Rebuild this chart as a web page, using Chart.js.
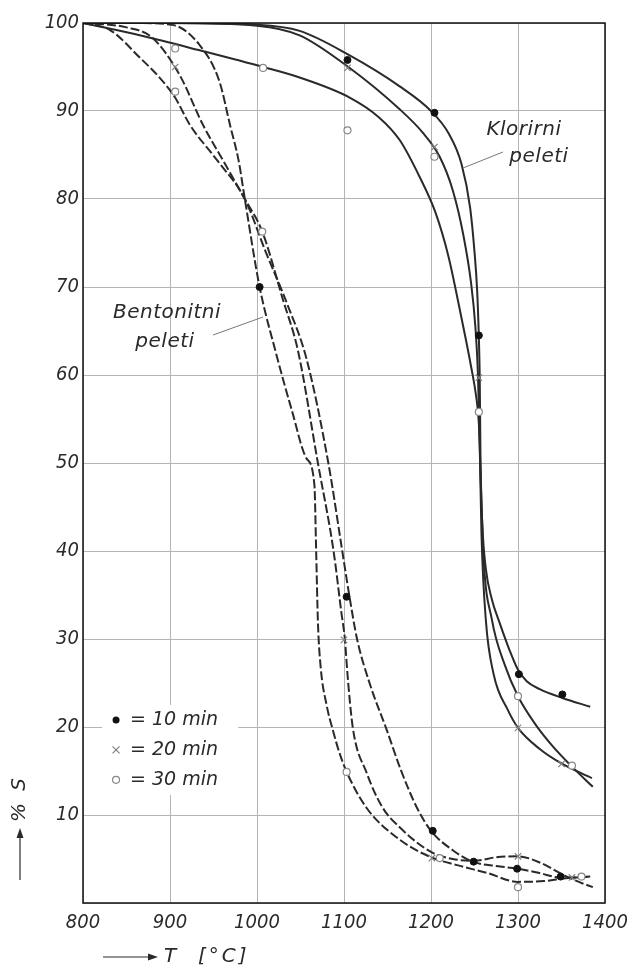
<!DOCTYPE html>
<html>
<head>
<meta charset="utf-8">
<script src="https://cdn.jsdelivr.net/npm/chart.js@4.4.1/dist/chart.umd.min.js"></script>
<style>
  body { margin: 0; background: #fff; }
  #wrap { width: 627px; height: 967px; }
</style>
</head>
<body>
<div id="wrap"><canvas id="myChart" width="627" height="967"></canvas></div>
<script>
// axis ticks
const tempTicks = [800, 900, 1000, 1100, 1200, 1300, 1400];
const sulfurTicks = [0, 10, 20, 30, 40, 50, 60, 70, 80, 90, 100];

// Klorirni peleti - solid curves
const klorT10 = [800, 900, 1000, 1049, 1105, 1164, 1200, 1220, 1235, 1245, 1250, 1253, 1255, 1256, 1257, 1259, 1263, 1270, 1279, 1290, 1300, 1310, 1325, 1351, 1383];
const klorS10 = [100, 100, 99.8, 99.1, 96.4, 92.8, 90, 87.5, 84, 79, 74, 69.7, 64.3, 59.8, 49.5, 43, 38, 34.5, 31.8, 28.8, 26.5, 25.2, 24.3, 23.3, 22.3];
const klorT20 = [800, 900, 1000, 1049, 1105, 1164, 1190, 1210, 1225, 1237, 1246, 1251, 1254, 1256, 1258, 1263, 1272, 1288, 1300, 1325, 1351, 1385];
const klorS20 = [100, 100, 99.7, 98.6, 95, 90.2, 87.6, 84.8, 81, 76, 70.5, 65.5, 60, 52, 42, 32.2, 26, 22, 19.9, 17.5, 15.8, 14.2];
const klorT30 = [800, 870, 934, 1007, 1049, 1107, 1140, 1164, 1187, 1205, 1220, 1235, 1246, 1252, 1255, 1257, 1260, 1270, 1285, 1300, 1320, 1340, 1362, 1386];
const klorS30 = [100, 98.5, 96.9, 95, 93.8, 91.5, 89.3, 86.7, 82.5, 78.5, 73.5, 66.5, 61, 57.5, 54.5, 49, 40, 32.2, 27, 23.5, 20.3, 17.8, 15.5, 13.2];

// Bentonitni peleti - dashed curves
const bentT1 = [800, 860, 902, 934, 957, 969, 979, 986, 1003, 1021, 1040, 1057, 1066, 1068, 1070, 1073, 1080, 1087, 1095, 1103, 1126, 1164, 1200, 1230, 1265, 1300, 1330, 1355, 1383];
const bentS1 = [100, 100, 99.8, 97.5, 93.3, 88.4, 84.3, 80, 70, 62.8, 56, 50.5, 47.5, 40, 32, 27, 22.5, 19.7, 17, 14.9, 10.8, 7.2, 5.2, 4.3, 3.4, 2.4, 2.5, 2.8, 3.0];
const bentT2 = [800, 850, 880, 911, 938, 962, 986, 1006, 1030, 1047, 1070, 1088, 1097, 1101, 1104, 1110, 1126, 1144, 1164, 1200, 1225, 1250, 1275, 1300, 1325, 1350, 1370, 1386];
const bentS2 = [100, 99.5, 98.3, 94.1, 88.4, 84.2, 80, 76.3, 68.5, 62.8, 50, 40, 33, 30, 26, 20, 14.8, 10.9, 8.6, 5.8, 5.0, 4.8, 5.2, 5.3, 4.6, 3.3, 2.4, 1.8];
const bentT3 = [800, 831, 866, 888, 906, 923, 955, 986, 1010, 1035, 1057, 1082, 1098, 1106, 1115, 1130, 1149, 1165, 1184, 1200, 1225, 1248, 1275, 1300, 1325, 1348, 1368, 1383];
const bentS3 = [100, 99.2, 96, 93.8, 91.5, 88.4, 84.3, 80, 74, 68, 61.8, 50, 40, 35, 30, 24.8, 19.7, 15.2, 10.8, 8.2, 6.0, 4.7, 4.2, 3.9, 3.4, 2.9, 2.9, 3.0];

// measured points
const klorDotT = [1104, 1204, 1255, 1301, 1351];
const klorDotS = [95.8, 89.8, 64.5, 26, 23.7];
const klorCrossT = [1104, 1204, 1255, 1300, 1350];
const klorCrossS = [94.9, 85.9, 59.7, 19.9, 15.8];
const klorRingT = [1007, 1104, 1204, 1255, 1300, 1362];
const klorRingS = [94.9, 87.8, 84.8, 55.8, 23.5, 15.6];
const bentDotT = [1003, 1103, 1202, 1249, 1299, 1349];
const bentDotS = [70, 34.8, 8.2, 4.7, 3.9, 3.0];
const bentCrossT = [906, 1100, 1201, 1300, 1362];
const bentCrossS = [95, 29.9, 5.1, 5.3, 2.9];
const bentRingT = [906, 906, 1006, 1103, 1210, 1300, 1373];
const bentRingS = [97.1, 92.2, 76.3, 14.9, 5.1, 1.8, 3.0];

const legendLabels = ['= 10 min', '= 20 min', '= 30 min'];

const FONT = '"DejaVu Sans Condensed", "DejaVu Sans", sans-serif';
const WIDE = '"DejaVu Sans", sans-serif';
const INK = '#2a2a2a';

function toPoints(xs, ys) {
  return xs.map((x, i) => ({x: x, y: ys[i]}));
}

function curve(xs, ys, dashed) {
  return {
    data: toPoints(xs, ys),
    showLine: true,
    borderColor: INK,
    borderWidth: 2,
    borderDash: dashed ? [9, 3] : [],
    pointRadius: 0,
    cubicInterpolationMode: 'monotone',
    order: 1
  };
}

function markers(xs, ys, kind) {
  const ds = {data: toPoints(xs, ys), showLine: false, order: 0};
  if (kind === 'dot') {
    Object.assign(ds, {pointStyle: 'circle', pointRadius: 3.5, backgroundColor: '#111', borderColor: '#111', borderWidth: 1});
  } else if (kind === 'cross') {
    Object.assign(ds, {pointStyle: 'crossRot', pointRadius: 4.5, borderColor: '#808080', borderWidth: 1.2});
  } else {
    Object.assign(ds, {pointStyle: 'circle', pointRadius: 3.5, backgroundColor: '#fff', borderColor: '#888', borderWidth: 1.2});
  }
  return ds;
}

function drawMarker(ctx, kind, x, y) {
  ctx.save();
  if (kind === 'dot') {
    ctx.fillStyle = '#111';
    ctx.beginPath(); ctx.arc(x, y, 3.5, 0, Math.PI * 2); ctx.fill();
  } else if (kind === 'cross') {
    ctx.strokeStyle = '#808080'; ctx.lineWidth = 1.2;
    ctx.beginPath();
    ctx.moveTo(x - 3.5, y - 3.5); ctx.lineTo(x + 3.5, y + 3.5);
    ctx.moveTo(x + 3.5, y - 3.5); ctx.lineTo(x - 3.5, y + 3.5);
    ctx.stroke();
  } else {
    ctx.strokeStyle = '#888'; ctx.lineWidth = 1.2; ctx.fillStyle = '#fff';
    ctx.beginPath(); ctx.arc(x, y, 3.5, 0, Math.PI * 2); ctx.fill(); ctx.stroke();
  }
  ctx.restore();
}

// frame, legend, notes and axis titles
const decorations = {
  id: 'decorations',
  afterDraw(chart) {
    const {ctx, chartArea} = chart;
    const xs = chart.scales.x;
    const ys = chart.scales.y;
    ctx.save();
    ctx.strokeStyle = '#111';
    ctx.lineWidth = 1.5;
    ctx.strokeRect(chartArea.left, chartArea.top, chartArea.right - chartArea.left, chartArea.bottom - chartArea.top);

    // legend box
    const lx = xs.getPixelForValue(838);
    ctx.fillStyle = '#fff';
    ctx.fillRect(lx - 14, ys.getPixelForValue(22.5), 136, 90);
    const kinds = ['dot', 'cross', 'ring'];
    const rows = [20.8, 17.4, 14.0];
    ctx.font = 'italic 19px ' + WIDE;
    ctx.textBaseline = 'middle';
    ctx.textAlign = 'left';
    rows.forEach((s, i) => {
      const y = ys.getPixelForValue(s);
      drawMarker(ctx, kinds[i], lx, y);
      ctx.fillStyle = INK;
      ctx.fillText(legendLabels[i], lx + 14, y);
    });

    // curve notes
    ctx.font = 'italic 20px ' + WIDE;
    ctx.letterSpacing = '0.5px';
    ctx.textAlign = 'center';
    ctx.fillStyle = INK;
    ctx.fillText('Klorirni', 524, 130);
    ctx.fillText('peleti', 539, 157);
    ctx.fillText('Bentonitni', 167, 313);
    ctx.fillText('peleti', 165, 342);
    ctx.strokeStyle = '#777';
    ctx.lineWidth = 1;
    ctx.beginPath();
    ctx.moveTo(463, 168); ctx.lineTo(503, 152);
    ctx.moveTo(213, 335); ctx.lineTo(263, 317);
    ctx.stroke();

    // x title
    ctx.letterSpacing = '3px';
    ctx.strokeStyle = INK;
    ctx.fillStyle = INK;
    ctx.lineWidth = 1.2;
    ctx.beginPath(); ctx.moveTo(103, 957); ctx.lineTo(152, 957); ctx.stroke();
    ctx.beginPath(); ctx.moveTo(158, 957); ctx.lineTo(148, 953.5); ctx.lineTo(148, 960.5); ctx.closePath(); ctx.fill();
    ctx.textAlign = 'left';
    ctx.fillText('T  [°C]', 164, 957);

    // y title
    ctx.translate(20, 880);
    ctx.rotate(-Math.PI / 2);
    ctx.beginPath(); ctx.moveTo(0, 0); ctx.lineTo(46, 0); ctx.stroke();
    ctx.beginPath(); ctx.moveTo(52, 0); ctx.lineTo(42, -3.5); ctx.lineTo(42, 3.5); ctx.closePath(); ctx.fill();
    ctx.fillText('% S', 58, 0);
    ctx.restore();
  }
};

const datasets = [
  markers(klorDotT, klorDotS, 'dot'),
  markers(klorCrossT, klorCrossS, 'cross'),
  markers(klorRingT, klorRingS, 'ring'),
  markers(bentDotT, bentDotS, 'dot'),
  markers(bentCrossT, bentCrossS, 'cross'),
  markers(bentRingT, bentRingS, 'ring'),
  curve(klorT10, klorS10, false),
  curve(klorT20, klorS20, false),
  curve(klorT30, klorS30, false),
  curve(bentT1, bentS1, true),
  curve(bentT2, bentS2, true),
  curve(bentT3, bentS3, true)
];

const chart = new Chart(document.querySelector('#myChart'), {
  type: 'scatter',
  data: {datasets: datasets},
  options: {
    responsive: false,
    animation: false,
    layout: {padding: {top: 23, right: 22, left: 0, bottom: 0}},
    plugins: {legend: {display: false}, tooltip: {enabled: false}},
    scales: {
      x: {
        type: 'linear',
        min: tempTicks[0],
        max: tempTicks[tempTicks.length - 1],
        afterBuildTicks: (scale) => { scale.ticks = tempTicks.map((v) => ({value: v})); },
        afterFit: (scale) => {
          scale.height = 64;
          scale.paddingLeft = 0;
          scale.paddingRight = 0;
        },
        grid: {color: '#b4b4b4', lineWidth: 1, drawTicks: false},
        border: {display: false},
        ticks: {
          padding: 8,
          color: INK,
          font: {family: FONT, size: 20, style: 'italic'},
          callback: (v) => String(v)
        }
      },
      y: {
        min: sulfurTicks[0],
        max: sulfurTicks[sulfurTicks.length - 1],
        afterBuildTicks: (scale) => { scale.ticks = sulfurTicks.map((v) => ({value: v})); },
        afterFit: (scale) => {
          scale.width = 83;
          scale.paddingTop = 0;
          scale.paddingBottom = 0;
        },
        grid: {color: '#b4b4b4', lineWidth: 1, drawTicks: false},
        border: {display: false},
        ticks: {
          padding: 4,
          color: INK,
          font: {family: FONT, size: 20, style: 'italic'},
          callback: (v) => (v === 0 ? '' : String(v))
        }
      }
    }
  },
  plugins: [decorations]
});
</script>
</body>
</html>
